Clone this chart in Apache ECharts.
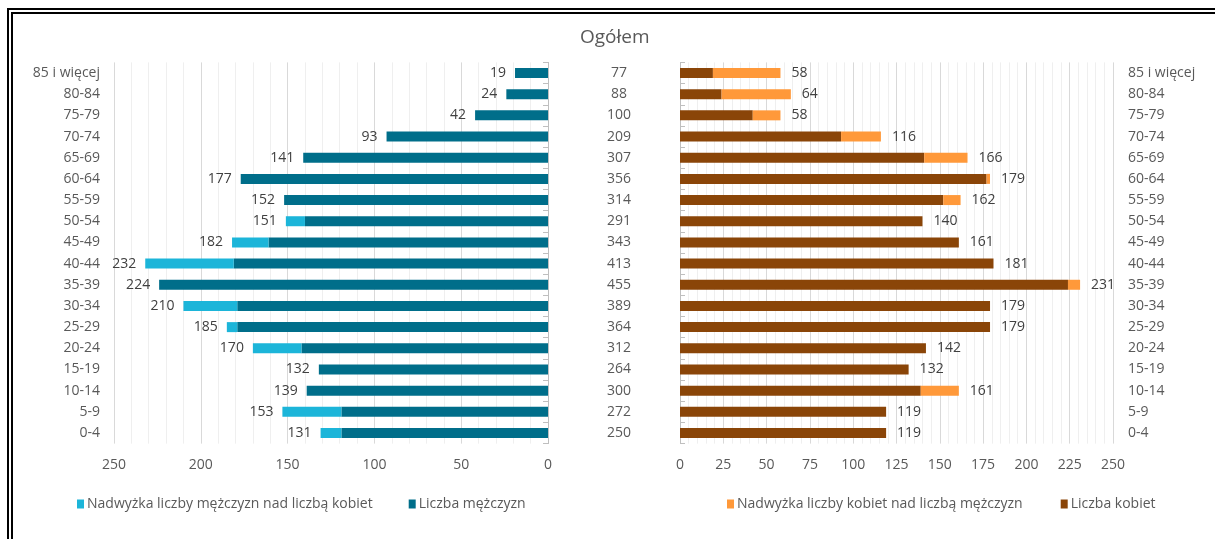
<!DOCTYPE html>
<html>
<head>
<meta charset="utf-8">
<script src="https://cdn.jsdelivr.net/npm/echarts@6/dist/echarts.min.js"></script>
<style>
html,body{margin:0;padding:0;background:#fff;}
#chart{width:1215px;height:539px;}
</style>
</head>
<body>
<div id="chart"></div>
<script>
const categories = ['85 i więcej','80-84','75-79','70-74','65-69','60-64','55-59','50-54','45-49','40-44','35-39','30-34','25-29','20-24','15-19','10-14','5-9','0-4'];
const men = [19,24,42,93,141,177,152,151,182,232,224,210,185,170,132,139,153,131];
const women = [58,64,58,116,166,179,162,140,161,181,231,179,179,142,132,161,119,119];
const totals = [77,88,100,209,307,356,314,291,343,413,455,389,364,312,264,300,272,250];

const commonPart = men.map((m, i) => Math.min(m, women[i]));
const menExcess = men.map((m, i) => Math.max(m - women[i], 0));
const womenExcess = women.map((w, i) => Math.max(w - men[i], 0));

const FONT = 'Open Sans';
const GRAY = '#595959';
const FS = 14;
const C_TEAL = '#006E8A', C_LBLUE = '#1CB5D9', C_BROWN = '#8A4508', C_ORANGE = '#FF993A';

const chart = echarts.init(document.getElementById('chart'), null, {renderer: 'canvas'});

const valueAxisCommon = {
  type: 'value', min: 0, max: 250,
  axisLine: {show: false}, axisTick: {show: false},
  axisLabel: {color: GRAY, fontFamily: FONT, fontSize: FS, margin: 14},
  splitLine: {show: true, lineStyle: {color: '#d9d9d9', width: 1}},
  minorTick: {show: false, splitNumber: 5},
  minorSplitLine: {show: true, lineStyle: {color: '#efefef', width: 1}}
};

const option = {
  animation: false,
  backgroundColor: '#ffffff',
  textStyle: {fontFamily: FONT},
  title: {
    text: 'Ogółem', left: 575, top: 23,
    textStyle: {color: GRAY, fontFamily: FONT, fontSize: 19, fontWeight: 'normal'}
  },
  legend: [
    {
      data: ['Nadwyżka liczby mężczyzn nad liczbą kobiet', 'Liczba mężczyzn'],
      left: 72, top: 492, icon: 'rect', itemWidth: 7, itemHeight: 9, itemGap: 36,
      textStyle: {color: GRAY, fontFamily: FONT, fontSize: FS, padding: [0, 0, 0, -2]}
    },
    {
      data: ['Nadwyżka liczby kobiet nad liczbą mężczyzn', 'Liczba kobiet'],
      left: 722, top: 492, icon: 'rect', itemWidth: 7, itemHeight: 9, itemGap: 38,
      textStyle: {color: GRAY, fontFamily: FONT, fontSize: FS, padding: [0, 0, 0, -2]}
    }
  ],
  grid: [
    {left: 114, right: 667, top: 62.4, bottom: 95.4},
    {left: 680, right: 102, top: 62.4, bottom: 95.4}
  ],
  xAxis: [
    Object.assign({}, valueAxisCommon, {gridIndex: 0, inverse: true, interval: 50}),
    Object.assign({}, valueAxisCommon, {gridIndex: 1, interval: 25})
  ],
  yAxis: [
    {
      type: 'category', gridIndex: 0, data: categories, inverse: true, position: 'left',
      axisLine: {show: true, lineStyle: {color: '#bfbfbf'}},
      axisTick: {show: true, length: 5, lineStyle: {color: '#bfbfbf'}},
      axisLabel: {color: GRAY, fontFamily: FONT, fontSize: FS, margin: 14}
    },
    {
      type: 'category', gridIndex: 1, data: categories, inverse: true, position: 'right',
      axisLine: {show: true, lineStyle: {color: '#bfbfbf'}},
      axisTick: {show: true, length: 5, lineStyle: {color: '#bfbfbf'}},
      axisLabel: {color: GRAY, fontFamily: FONT, fontSize: FS, margin: 15}
    },
    {
      type: 'category', gridIndex: 1, data: totals.map(String), inverse: true, position: 'left',
      axisLine: {show: false}, axisTick: {show: false},
      axisLabel: {color: GRAY, fontFamily: FONT, fontSize: FS, margin: 61, align: 'center'}
    }
  ],
  series: [
    {
      name: 'Liczba mężczyzn', type: 'bar', xAxisIndex: 0, yAxisIndex: 0, stack: 'm',
      data: commonPart, barWidth: 10, itemStyle: {color: C_TEAL}
    },
    {
      name: 'Nadwyżka liczby mężczyzn nad liczbą kobiet', type: 'bar', xAxisIndex: 0, yAxisIndex: 0, stack: 'm',
      data: menExcess, barWidth: 10, itemStyle: {color: C_LBLUE},
      label: {
        show: true, position: 'left', distance: 9, color: '#404040', fontFamily: FONT, fontSize: FS,
        formatter: p => String(men[p.dataIndex])
      }
    },
    {
      name: 'Liczba kobiet', type: 'bar', xAxisIndex: 1, yAxisIndex: 1, stack: 'w',
      data: commonPart, barWidth: 10, itemStyle: {color: C_BROWN}
    },
    {
      name: 'Nadwyżka liczby kobiet nad liczbą mężczyzn', type: 'bar', xAxisIndex: 1, yAxisIndex: 1, stack: 'w',
      data: womenExcess, barWidth: 10, itemStyle: {color: C_ORANGE},
      label: {
        show: true, position: 'right', distance: 11, color: '#404040', fontFamily: FONT, fontSize: FS,
        formatter: p => String(women[p.dataIndex])
      }
    }
  ],
  graphic: [
    {type: 'rect', shape: {x: 7, y: 8, width: 1208, height: 2}, style: {fill: '#000'}, silent: true},
    {type: 'rect', shape: {x: 11, y: 12, width: 1204, height: 2}, style: {fill: '#000'}, silent: true},
    {type: 'rect', shape: {x: 7, y: 8, width: 2, height: 531}, style: {fill: '#000'}, silent: true},
    {type: 'rect', shape: {x: 11, y: 12, width: 2, height: 527}, style: {fill: '#000'}, silent: true}
  ]
};
chart.setOption(option);
</script>
</body>
</html>
